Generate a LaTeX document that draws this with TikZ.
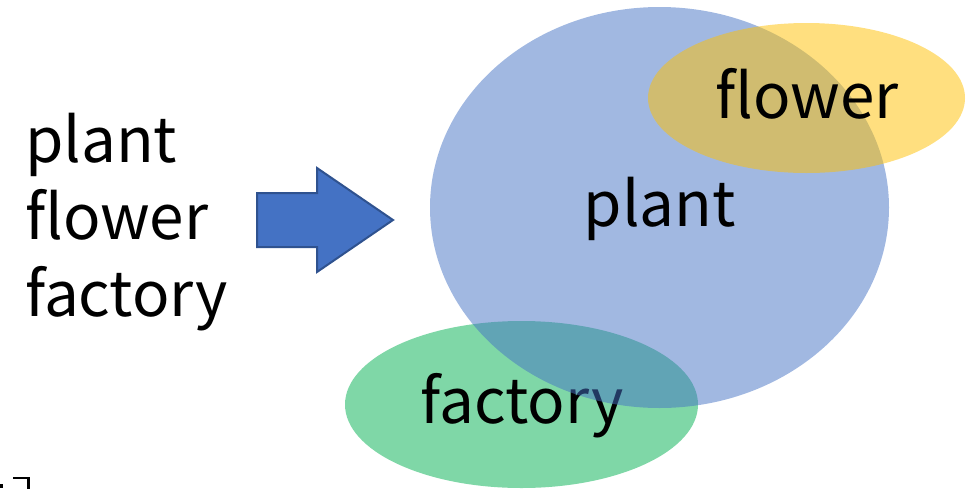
\documentclass[tikz,border=0pt]{standalone}
\usepackage{fontspec}
\setmainfont{Noto Sans CJK JP}
\begin{document}
\begin{tikzpicture}[x=1pt,y=-1pt,
  word/.style={font=\fontsize{62}{62}\selectfont, inner sep=0pt, text=black},
  setshape/.style={draw=none, fill opacity=0.5},
  bigarrow/.style={fill=arrowblue, draw=arrowedge, line width=2pt, line join=miter}]
\definecolor{setblue}{HTML}{4472C4}
\definecolor{setgold}{HTML}{FFC000}
\definecolor{setgreen}{HTML}{00B050}
\definecolor{arrowblue}{HTML}{4472C4}
\definecolor{arrowedge}{HTML}{2F528F}
\useasboundingbox (0,0) rectangle (974,488);

% word list
\node[word, anchor=base west] (w1) at (25,162) {plant};
\node[word, anchor=base west] (w2) at (25,239) {flower};
\node[word, anchor=base west] (w3) at (25,316) {factory};

% block arrow
\draw[bigarrow] (257,193) -- (317,193) -- (317,168) -- (393,220)
  -- (317,272) -- (317,247) -- (257,247) -- cycle;

% overlapping sets
\fill[setshape, fill=setgreen] (521.5,404.5) ellipse [x radius=176.5, y radius=83.5];
\node[word, anchor=base] (factory) at (522,423) {factory};
\fill[setshape, fill=setblue] (659.5,207.5) ellipse [x radius=229.5, y radius=200.5];
\node[word, anchor=base] (plant) at (660,226) {plant};
\fill[setshape, fill=setgold] (806.5,98) ellipse [x radius=158.5, y radius=75];
\node[word, anchor=base] (flower) at (807,118) {flower};

% bracket fragment at the lower left edge
\draw[line width=2.5pt] (13,478) -- (28.5,478) -- (28.5,490);
\fill (0,484) rectangle (2.5,488);
\end{tikzpicture}
\end{document}
